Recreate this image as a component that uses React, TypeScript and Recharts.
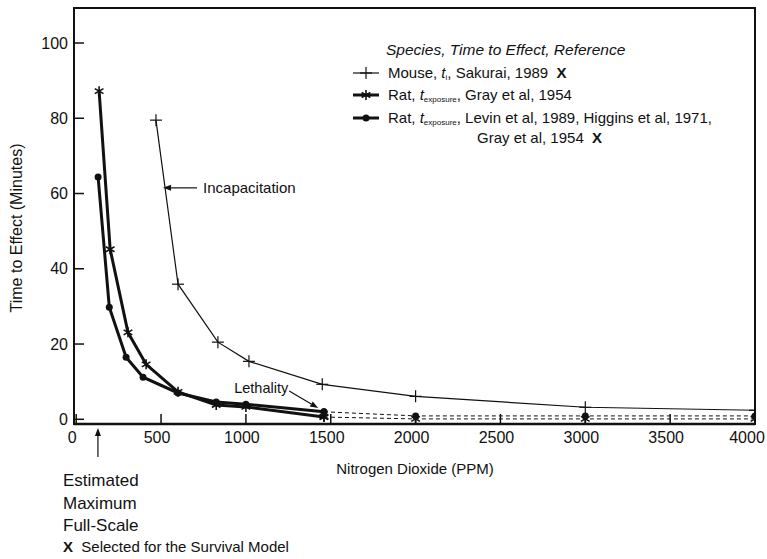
import React from "react";
import { LineChart, Line, XAxis, YAxis, ReferenceLine, ReferenceArea, Legend } from "recharts";

// NO2 concentration (ppm) vs time to effect (minutes)
const xTicks = [0, 500, 1000, 1500, 2000, 2500, 3000, 3500, 4000];
const yTicks = [0, 20, 40, 60, 80, 100];

const mouseIncap = [
  { ppm: 470, min: 79.5 },
  { ppm: 600, min: 35.9 },
  { ppm: 835, min: 20.5 },
  { ppm: 1018, min: 15.4 },
  { ppm: 1450, min: 9.3 },
  { ppm: 2000, min: 6.1 },
  { ppm: 3000, min: 3.2 },
  { ppm: 4000, min: 2.4 },
];

const ratGray = [
  { ppm: 135, min: 87.2 },
  { ppm: 200, min: 45.2 },
  { ppm: 305, min: 23.1 },
  { ppm: 412, min: 14.6 },
  { ppm: 600, min: 7.3 },
  { ppm: 825, min: 3.8 },
  { ppm: 1000, min: 3.3 },
  { ppm: 1460, min: 0.6 },
];
const ratGrayExtra = [
  { ppm: 1460, min: 0.6 },
  { ppm: 2000, min: 0.1 },
  { ppm: 3000, min: 0.1 },
  { ppm: 4000, min: 0.1 },
];

const ratLevin = [
  { ppm: 129, min: 64.4 },
  { ppm: 195, min: 29.8 },
  { ppm: 294, min: 16.5 },
  { ppm: 394, min: 11.2 },
  { ppm: 600, min: 7.0 },
  { ppm: 825, min: 4.6 },
  { ppm: 1000, min: 4.0 },
  { ppm: 1460, min: 2.0 },
];
const ratLevinExtra = [
  { ppm: 1460, min: 2.0 },
  { ppm: 2000, min: 0.9 },
  { ppm: 3000, min: 0.9 },
  { ppm: 4000, min: 0.9 },
];

const INK = "#111";
const FONT = "'Liberation Sans', Arial, Helvetica, sans-serif";

const plus = (cx: number, cy: number, key?: any) => (
  <g key={key}>
    <line x1={cx - 6} x2={cx + 6} y1={cy} y2={cy} stroke={INK} strokeWidth={1.2} />
    <line x1={cx} x2={cx} y1={cy - 6} y2={cy + 6} stroke={INK} strokeWidth={1.2} />
  </g>
);

const star = (cx: number, cy: number, key?: any) => (
  <g key={key}>
    {[90, 30, 150].map((a) => {
      const r = 5;
      const dx = r * Math.cos((a * Math.PI) / 180);
      const dy = r * Math.sin((a * Math.PI) / 180);
      return <line key={a} x1={cx - dx} x2={cx + dx} y1={cy - dy} y2={cy + dy} stroke={INK} strokeWidth={1.6} />;
    })}
  </g>
);

const dotC = (cx: number, cy: number, key?: any) => <circle key={key} cx={cx} cy={cy} r={3.5} fill={INK} />;

const PlusDot = (p: any) => (p.cx == null ? <g key={p.key} /> : plus(p.cx, p.cy, p.key));
const StarDot = (p: any) => (p.cx == null ? <g key={p.key} /> : star(p.cx, p.cy, p.key));
const CircDot = (p: any) => (p.cx == null ? <g key={p.key} /> : dotC(p.cx, p.cy, p.key));

// arrow annotation drawn from the reference line endpoints
const arrow = (text?: string, tx = 0, ty = 0, anchor = "start", fs = 14) => (p: any) => {
  const { x1, y1, x2, y2 } = p;
  const ang = Math.atan2(y2 - y1, x2 - x1);
  const L = 8;
  const W = 3;
  const bx = x2 - L * Math.cos(ang);
  const by = y2 - L * Math.sin(ang);
  const nx = -Math.sin(ang) * W;
  const ny = Math.cos(ang) * W;
  return (
    <g>
      <line x1={x1} y1={y1} x2={bx} y2={by} stroke={INK} strokeWidth={1.2} />
      <polygon points={`${x2},${y2} ${bx + nx},${by + ny} ${bx - nx},${by - ny}`} fill={INK} />
      {text && (
        <text x={x1 + tx} y={y1 + ty} textAnchor={anchor as any} dominantBaseline="central" fontSize={fs} fill={INK} fontFamily={FONT}>
          {text}
        </text>
      )}
    </g>
  );
};

const Sub = ({ s }: { s: string }) => (
  <>
    <i>t</i>
    <sub style={{ fontSize: 8, verticalAlign: "-2px" }}>{s}</sub>
  </>
);

const Icon = ({ kind }: { kind: string }) => (
  <svg width={28} height={14} style={{ position: "absolute", left: 0, top: 3 }}>
    <line x1={1} x2={27} y1={7} y2={7} stroke={INK} strokeWidth={kind === "mouse" ? 1.2 : 3} />
    {kind === "mouse" ? plus(14, 7) : kind === "gray" ? star(14, 7) : dotC(14, 7)}
  </svg>
);

const LegendBox = () => {
  const row = (top: number, left: number, kind: string | null, content: React.ReactNode) => (
    <div style={{ position: "absolute", top, left, whiteSpace: "nowrap", height: 20, lineHeight: "20px" }}>
      {kind && <Icon kind={kind} />}
      <span style={{ marginLeft: kind ? 36 : 0 }}>{content}</span>
    </div>
  );
  return (
    <div style={{ position: "relative", width: 420, height: 150, fontFamily: FONT, fontSize: 15, color: INK }}>
      {row(2, 34, null, <i style={{ fontSize: 15.5 }}>Species, Time to Effect, Reference</i>)}
      {row(25, 0, "mouse", <>Mouse, <Sub s="i" />, Sakurai, 1989&nbsp;&nbsp;<b>X</b></>)}
      {row(47, 0, "gray", <>Rat, <Sub s="exposure" />, Gray et al, 1954</>)}
      {row(70, 0, "levin", <>Rat, <Sub s="exposure" />, Levin et al, 1989, Higgins et al, 1971,</>)}
      {row(90, 125, null, <>Gray et al, 1954&nbsp;&nbsp;<b>X</b></>)}
    </div>
  );
};

export default function App() {
  return (
    <div style={{ position: "absolute", left: 0, top: 0, width: 767, height: 559, background: "#fff", fontFamily: FONT }}>
      <LineChart width={767} height={559} margin={{ top: 8, right: 12, left: 14, bottom: 105 }}>
        <XAxis
          type="number"
          dataKey="ppm"
          domain={[-13, 4000]}
          ticks={xTicks}
          allowDataOverflow
          height={30}
          tickSize={-10}
          tickMargin={18}
          tick={{ fontSize: 16, fill: INK, fontFamily: FONT, dx: -4 }}
          axisLine={{ stroke: INK, strokeWidth: 2.5 }}
          tickLine={{ stroke: INK, strokeWidth: 1.5 }}
        />
        <YAxis
          type="number"
          domain={[-1.25, 109.3]}
          ticks={yTicks}
          allowDataOverflow
          width={60}
          tickSize={-10}
          tickMargin={16}
          tick={{ fontSize: 16, fill: INK, fontFamily: FONT }}
          axisLine={{ stroke: INK, strokeWidth: 2 }}
          tickLine={{ stroke: INK, strokeWidth: 1.5 }}
        />
        <ReferenceArea x1={-13} x2={4000} y1={-1.25} y2={109.3} fill="none" stroke={INK} strokeWidth={2} ifOverflow="visible" />

        <Line data={ratGrayExtra} dataKey="min" type="linear" stroke={INK} strokeWidth={1} strokeDasharray="4 3" dot={StarDot} isAnimationActive={false} legendType="none" />
        <Line data={ratLevinExtra} dataKey="min" type="linear" stroke={INK} strokeWidth={1} strokeDasharray="4 3" dot={CircDot} isAnimationActive={false} legendType="none" />
        <Line data={mouseIncap} dataKey="min" type="linear" stroke={INK} strokeWidth={1.2} dot={PlusDot} isAnimationActive={false} legendType="none" />
        <Line data={ratLevin} dataKey="min" type="linear" stroke={INK} strokeWidth={3} dot={CircDot} isAnimationActive={false} legendType="none" />
        <Line data={ratGray} dataKey="min" type="linear" stroke={INK} strokeWidth={3} dot={StarDot} isAnimationActive={false} legendType="none" />

        <ReferenceLine
          segment={[{ x: 712, y: 61.5 }, { x: 512, y: 61.5 }]}
          ifOverflow="visible"
          shape={arrow("Incapacitation", 6, 0, "start", 15)}
        />
        <ReferenceLine
          segment={[{ x: 1255, y: 7.5 }, { x: 1426, y: 3.0 }]}
          ifOverflow="visible"
          shape={arrow("Lethality", -1, -3, "end", 14.5)}
        />
        <ReferenceLine
          segment={[{ x: 128, y: -10 }, { x: 128, y: -2.3 }]}
          ifOverflow="visible"
          shape={arrow()}
        />

        <Legend
          verticalAlign="middle"
          align="center"
          layout="horizontal"
          content={() => <LegendBox />}
          wrapperStyle={{ position: "absolute", left: 352, top: 38, width: 420, height: 150 }}
        />
      </LineChart>

      <div
        style={{
          position: "absolute",
          left: 17,
          top: 228,
          transform: "translate(-50%, -50%) rotate(-90deg)",
          fontSize: 16,
          whiteSpace: "nowrap",
          color: INK,
        }}
      >
        Time to Effect (Minutes)
      </div>
      <div style={{ position: "absolute", left: 415, top: 468, transform: "translate(-50%, -50%)", fontSize: 15, whiteSpace: "nowrap", color: INK }}>
        Nitrogen Dioxide (PPM)
      </div>
      <div style={{ position: "absolute", left: 63, top: 470, fontSize: 17, lineHeight: "22.5px", color: INK }}>
        Estimated
        <br />
        Maximum
        <br />
        Full-Scale
      </div>
      <div style={{ position: "absolute", left: 63, top: 538, fontSize: 15, whiteSpace: "nowrap", color: INK }}>
        <b>X</b>&nbsp;&nbsp;Selected for the Survival Model
      </div>
    </div>
  );
}
